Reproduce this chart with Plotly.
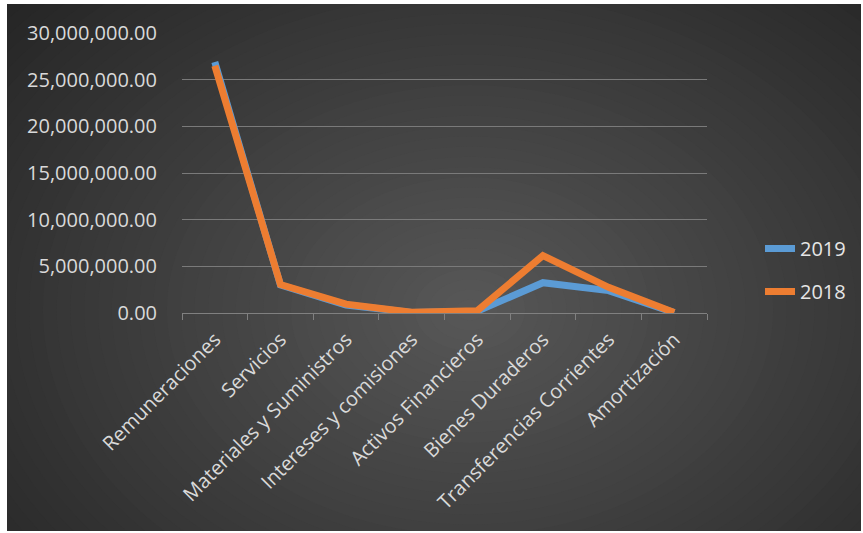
import plotly.graph_objects as go

categories = ["Remuneraciones", "Servicios", "Materiales y Suministros",
              "Intereses y comisiones", "Activos Financieros",
              "Bienes Duraderos", "Transferencias Corrientes", "Amortización"]
values_2019 = [26900000, 3000000, 850000, 60000, 200000, 3250000, 2400000, 40000]
values_2018 = [26500000, 3050000, 950000, 80000, 250000, 6150000, 2750000, 60000]

W, H = 863, 533
L, R, T, B = 182, 156, 33, 220
pw, ph = W - L - R, H - T - B

def px(x):
    return (x - L) / pw

def py(y):
    return (H - B - y) / ph

fig = go.Figure()

fig.add_trace(go.Scatter(x=categories, y=values_2019, name="2019", mode="lines",
                         line=dict(color="#5B9BD5", width=7), legendgroup="a"))
fig.add_trace(go.Scatter(x=categories, y=values_2018, name="2018", mode="lines",
                         line=dict(color="#ED7D31", width=7), legendgroup="b"))

shapes = []
# radial gradient approximation
cx, cy = 470, 310
Rx, Ry = 620, 460
edge = (38, 38, 38)
center = (88, 88, 88)
N = 45
for i in range(N):
    t = 1 - i / N
    col = tuple(int(round(center[k] + (edge[k] - center[k]) * t)) for k in range(3))
    shapes.append(dict(type="circle", xref="paper", yref="paper",
                       x0=px(cx - Rx * t), x1=px(cx + Rx * t),
                       y0=py(cy + Ry * t), y1=py(cy - Ry * t),
                       fillcolor="rgb(%d,%d,%d)" % col, line=dict(width=0),
                       layer="below"))
# white margins
for (x0, y0, x1, y1) in [(-5, -5, 7, H + 5), (-5, -5, W + 5, 4),
                         (861, -5, W + 5, H + 5), (-5, 531, W + 5, H + 5)]:
    shapes.append(dict(type="rect", xref="paper", yref="paper",
                       x0=px(x0), x1=px(x1), y0=py(y1), y1=py(y0),
                       fillcolor="white", line=dict(width=0), layer="below"))

fig.update_layout(
    width=W, height=H,
    margin=dict(l=L, r=R, t=T, b=B, autoexpand=False),
    paper_bgcolor="#262626",
    plot_bgcolor="rgba(0,0,0,0)",
    shapes=shapes,
    font=dict(family="Open Sans", color="#d9d9d9", size=20),
    showlegend=True,
    legend=dict(x=px(760), xanchor="left", y=py(270), yanchor="middle",
                font=dict(size=20, color="#e6e6e6"),
                bgcolor="rgba(0,0,0,0)", tracegroupgap=14),
    xaxis=dict(type="category", range=[-0.5, 7.5], tickangle=-45,
               showgrid=False, showline=True, linecolor="#808080", linewidth=1,
               ticks="outside", tickson="boundaries", ticklen=6,
               tickcolor="#808080", tickfont=dict(size=20, color="#d9d9d9"),
               ticklabelstandoff=6, zeroline=False, fixedrange=True),
    yaxis=dict(range=[0, 30000000], dtick=5000000, tickformat=",.2f",
               showgrid=True, gridcolor="#7a7a7a", gridwidth=1,
               showline=False, zeroline=False, ticks="",
               tickfont=dict(size=20, color="#d9d9d9"),
               ticklabelstandoff=24, fixedrange=True),
)

fig.write_html("out.html", config={"displayModeBar": False})

with open("out.html", "r", encoding="utf-8") as f:
    html = f.read()
html = html.replace("<body>", '<body style="margin:0;padding:0;overflow:hidden">', 1)
with open("out.html", "w", encoding="utf-8") as f:
    f.write(html)
